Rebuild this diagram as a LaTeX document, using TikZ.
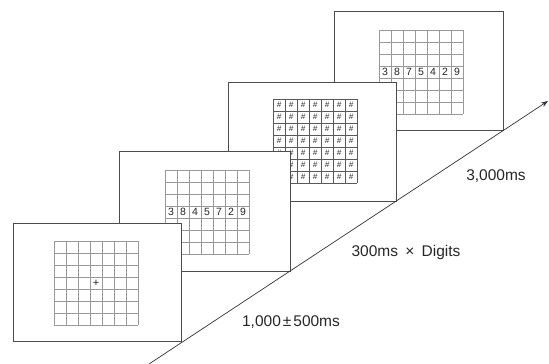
\documentclass[tikz,border=0pt]{standalone}
\usepackage{fontspec}
\setmainfont{Liberation Sans}
\usetikzlibrary{arrows.meta}
\tikzset{
  screenbox/.style={draw=black!70, line width=0.8pt, fill=white},
  gridline/.style={draw=black!40, line width=0.6pt},
  hashline/.style={draw=black!65, line width=0.6pt},
  digit/.style={inner sep=0pt, font=\fontsize{10.5}{10.5}\selectfont, text=black!85},
  hashmark/.style={inner sep=0pt, font=\fontsize{8}{8}\selectfont\itshape, text=black!85},
  timelabel/.style={inner sep=0pt, font=\fontsize{15.5}{15.5}\selectfont, text=black!85},
  timeline/.style={draw=black!80, line width=0.7pt, -{Stealth[length=7pt,width=5pt]}}
}
\newcommand\mygrid[3]{%
  \foreach \i in {0,...,7} {
    \draw[#3] (#1+\i*12, #2) -- (#1+\i*12, #2+84);
    \draw[#3] (#1, #2+\i*12) -- (#1+84, #2+\i*12);
  }%
}
\begin{document}
\begin{tikzpicture}[x=1pt, y=-1pt]
\useasboundingbox (0,0) rectangle (549,364);
% screen 4 (back)
\draw[screenbox] (334,11) rectangle (503,130);
\mygrid{379}{30}{gridline}
\foreach \d [count=\k from 0] in {3,8,7,5,4,2,9}
  \node[digit] (d4-\k) at (379+6+12*\k, 30+42) {\d};
% screen 3
\draw[screenbox] (228,82) rectangle (396,201);
\foreach \r in {0,...,6} \foreach \c in {0,...,6}
  \node[hashmark] (h-\r-\c) at (273+6+12*\c, 99+6+12*\r) {\#};
\mygrid{273}{99}{hashline}
% screen 2
\draw[screenbox] (119,151) rectangle (290,271);
\mygrid{165}{170}{gridline}
\foreach \d [count=\k from 0] in {3,8,4,5,7,2,9}
  \node[digit] (d2-\k) at (165+6+12*\k, 170+42) {\d};
% screen 1 (front)
\draw[screenbox] (13,223) rectangle (181,341);
\mygrid{54}{241}{gridline}
\node[digit, font=\fontsize{11}{11}\selectfont] (fix) at (96,283) {+};
% time axis
\coordinate (tstart) at (149,364);
\coordinate (tend) at (548,101);
\draw[timeline] (tstart) -- (tend);
\node[timelabel] (l3) at (496,176) {3,000ms};
\node[timelabel] (l2) at (406,252) {300ms\hspace{3pt} ×\hspace{3pt} Digits};
\node[timelabel] (l1) at (291,322) {1,000\hspace{2pt}±\hspace{2pt}500ms};
\end{tikzpicture}
\end{document}
